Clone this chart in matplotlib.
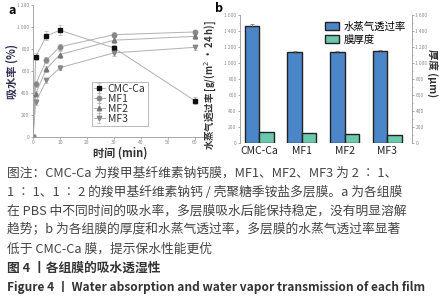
import numpy as np
import matplotlib
matplotlib.use("Agg")
import matplotlib.pyplot as plt
from matplotlib.ticker import FuncFormatter, MultipleLocator

plt.rcParams['font.family'] = ['Noto Sans CJK SC', 'DejaVu Sans']

# ----------------------------
# Datos
# ----------------------------
times = [0, 1, 5, 10, 30, 60]
absorb_cmc = [0, 730, 920, 970, 810, 330]
absorb_mf1 = [0, 480, 700, 820, 930, 955]
absorb_mf2 = [0, 395, 620, 750, 880, 915]
absorb_mf3 = [0, 320, 515, 630, 765, 815]
err_cmc = [0, 30, 40, 45, 30, 30]
err_mf1 = [0, 25, 25, 30, 25, 20]
err_mf2 = [0, 25, 25, 30, 25, 20]
err_mf3 = [0, 25, 25, 25, 25, 20]

films = ["CMC-Ca", "MF1", "MF2", "MF3"]
wvtr = [1465, 1135, 1140, 1150]
wvtr_err = [20, 15, 15, 18]
thickness = [135, 125, 110, 105]

caption_lines = [
    "图注：CMC-Ca 为羧甲基纤维素钠钙膜，MF1、MF2、MF3 为 2 ∶ 1、",
    "1 ∶ 1、1 ∶ 2 的羧甲基纤维素钠钙 / 壳聚糖季铵盐多层膜。a 为各组膜",
    "在 PBS 中不同时间的吸水率，多层膜吸水后能保持稳定，没有明显溶解",
    "趋势；b 为各组膜的厚度和水蒸气透过率，多层膜的水蒸气透过率显著",
    "低于 CMC-Ca 膜，提示保水性能更优",
]
title_cn = "图 4 丨各组膜的吸水透湿性"
title_en = "Figure 4 丨 Water absorption and water vapor transmission of each film"


def thousands(v, pos):
    return f"{int(v):,}".replace(",", " ")


W, H = 445, 300
fig = plt.figure(figsize=(W / 100, H / 100), dpi=100)

# ----------------------------
# Panel a
# ----------------------------
ax1 = fig.add_axes([33 / W, (H - 137) / H, (207 - 33) / W, (137 - 5) / H])
series = [
    ("CMC-Ca", absorb_cmc, err_cmc, "s", "#111111"),
    ("MF1", absorb_mf1, err_mf1, "o", "#888888"),
    ("MF2", absorb_mf2, err_mf2, "^", "#777777"),
    ("MF3", absorb_mf3, err_mf3, "v", "#888888"),
]
for name, vals, err, mk, col in series:
    ax1.errorbar(times, vals, yerr=err, marker=mk, markersize=3.2, color="#b0b0b0",
                 mfc=col, mec=col, lw=0.7, elinewidth=0.5, ecolor="#b0b0b0",
                 capsize=1.5, capthick=0.5, label=name)
ax1.set_xlim(0, 64.5)
ax1.set_ylim(0, 1200)
ax1.xaxis.set_major_locator(MultipleLocator(10))
ax1.yaxis.set_major_locator(MultipleLocator(200))
ax1.yaxis.set_major_formatter(FuncFormatter(thousands))
for s in ["top", "right"]:
    ax1.spines[s].set_visible(False)
for s in ["left", "bottom"]:
    ax1.spines[s].set_color("#999999")
    ax1.spines[s].set_linewidth(0.6)
ax1.tick_params(labelsize=3.5, colors="#888888", length=1.5, width=0.5, pad=1)
ax1.set_xlabel("时间 (min)", fontsize=8, fontweight="bold", color="#333333", labelpad=1)
ax1.set_ylabel("吸水率 (%)", fontsize=8, fontweight="bold", color="#333355", labelpad=-1)
leg = ax1.legend(loc="upper left", bbox_to_anchor=(0.34, 0.42), fontsize=7.5,
                 frameon=True, fancybox=False, edgecolor="#888888",
                 handlelength=1.0, handletextpad=0.3, labelspacing=0.0,
                 borderpad=0.2, borderaxespad=0)
leg.get_frame().set_linewidth(0.5)
for t in leg.get_texts():
    t.set_color("#333333")

fig.text(8 / W, 1 - 10 / H, "a", fontsize=9, fontweight="bold", va="center")
fig.text(215 / W, 1 - 8 / H, "b", fontsize=9, fontweight="bold", va="center")

# ----------------------------
# Panel b
# ----------------------------
ax2 = fig.add_axes([240 / W, (H - 143) / H, (412 - 240) / W, (143 - 15) / H])
x = np.arange(len(films))
bw = 0.34
ax2.bar(x - bw / 2, wvtr, bw, color="#4a86c8", edgecolor="#222222", lw=1.0,
        yerr=wvtr_err, error_kw=dict(elinewidth=0.5, capsize=1.5, capthick=0.5, ecolor="#666666"),
        label="水蒸气透过率")
ax2.bar(x + bw / 2, thickness, bw, color="#6cc8ad", edgecolor="#222222", lw=1.0,
        label="膜厚度")
ax2.set_xlim(-0.45, 3.58)
ax2.set_ylim(0, 1600)
ax2.set_xticks(x)
ax2.set_xticklabels(films, fontsize=7.5, color="#222222")
ax2.yaxis.set_major_locator(MultipleLocator(200))
ax2.yaxis.set_minor_locator(MultipleLocator(100))
ax2.yaxis.set_major_formatter(FuncFormatter(thousands))
ax2.tick_params(axis="y", labelsize=3.5, colors="#888888", length=1.5, width=0.5, pad=1)
ax2.tick_params(axis="y", which="minor", length=1, width=0.4, color="#888888")
ax2.tick_params(axis="x", length=0, pad=2)
for s in ["top", "right", "bottom"]:
    ax2.spines[s].set_visible(False)
ax2.spines["left"].set_color("#999999")
ax2.spines["left"].set_linewidth(0.6)
ax2.set_ylabel("水蒸气透过率 [g/(m$^2$ · 24 h)]", fontsize=6.8, fontweight="bold",
               color="#333333", labelpad=1)
ax2.yaxis.set_label_coords(-0.125, 0.45)
ax2.legend(loc="upper right", bbox_to_anchor=(1.0, 1.0), fontsize=7.5, frameon=False,
           handlelength=1.4, handleheight=0.9, handletextpad=0.4, labelspacing=0.3,
           borderaxespad=0.2)

ax3 = ax2.twinx()
ax3.set_ylim(0, 1600)
ax3.yaxis.set_major_locator(MultipleLocator(200))
ax3.yaxis.set_minor_locator(MultipleLocator(100))
ax3.yaxis.set_major_formatter(FuncFormatter(thousands))
ax3.tick_params(axis="y", labelsize=3.5, colors="#888888", length=1.5, width=0.5, pad=1)
ax3.tick_params(axis="y", which="minor", length=1, width=0.4, color="#888888")
for s in ["top", "left", "bottom"]:
    ax3.spines[s].set_visible(False)
ax3.spines["right"].set_color("#999999")
ax3.spines["right"].set_linewidth(0.6)
ax3.set_ylabel("厚度 (μm)", fontsize=7.5, fontweight="bold", color="#333333",
               rotation=-90, va="center", labelpad=0)
ax3.yaxis.set_label_coords(1.115, 0.55)

# ----------------------------
# Caption
# ----------------------------
y0 = 173
for i, line in enumerate(caption_lines):
    fig.text(7 / W, 1 - (y0 + i * 19) / H, line, fontsize=9.2, color="#444444", va="center")
fig.text(7 / W, 1 - 268 / H, title_cn, fontsize=9.2, fontweight="bold", color="#333333", va="center")
fig.text(7 / W, 1 - 287 / H, title_en, fontsize=8.6, fontweight="bold", color="#333333", va="center")

fig.savefig("out.png", dpi=100)
